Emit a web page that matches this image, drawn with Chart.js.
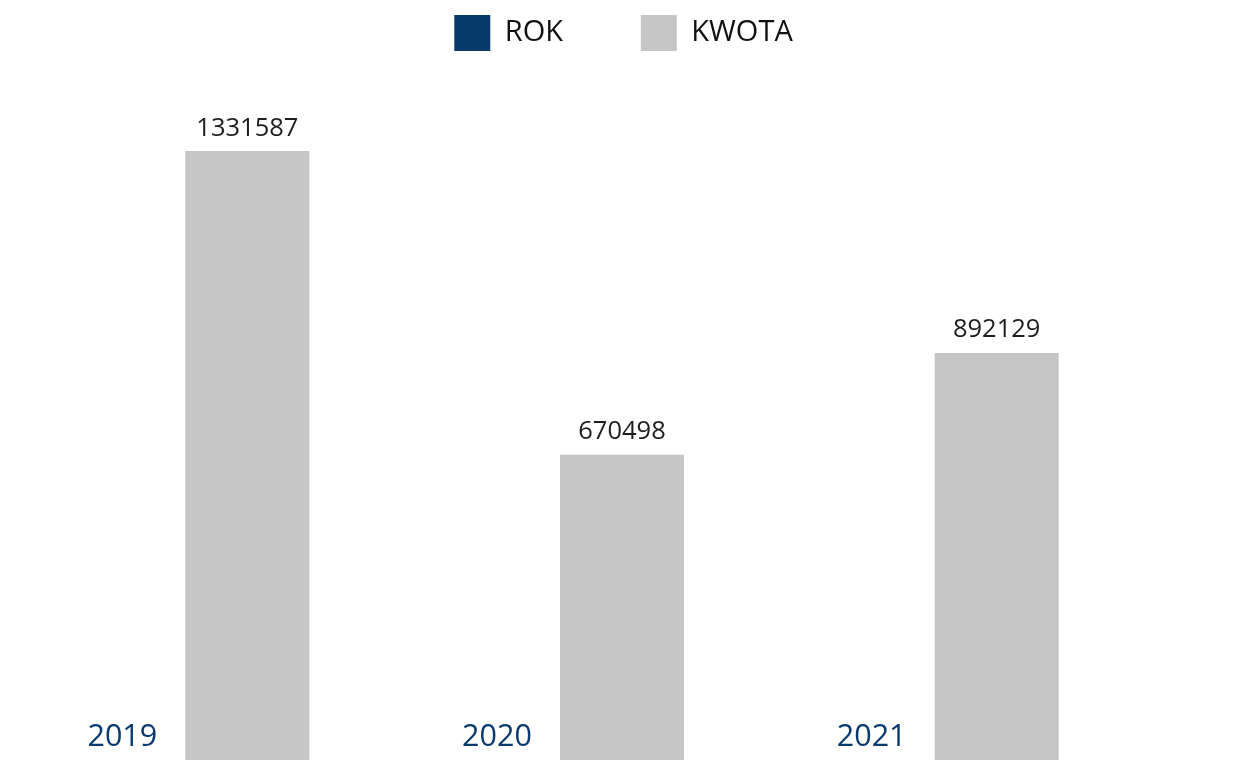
<!DOCTYPE html>
<html>
<head>
<meta charset="utf-8">
<script src="https://cdn.jsdelivr.net/npm/chart.js@4"></script>
<style>
    html, body { margin: 0; padding: 0; background: #ffffff; overflow: hidden; }
    /* obszar wykresu schodzi kilka pikseli poza kadr, jak w oryginale */
    #wrap { width: 1238px; height: 763px; margin-left: -2px; }
</style>
</head>
<body>
<div id="wrap"><canvas id="chart"></canvas></div>
<script>
const Lata = ["2019", "2020", "2021"];
const Rok = [2019, 2020, 2021];
const Kwota = [1331587, 670498, 892129];

const colorRok = "#083a6b";
const colorKwota = "#c6c6c6";

// etykiety nad słupkami (bez pluginu datalabels)
const barLabels = {
    id: 'barLabels',
    afterDatasetsDraw(chart) {
        const ctx = chart.ctx;
        ctx.save();
        ctx.textAlign = 'center';
        ctx.textBaseline = 'bottom';
        chart.data.datasets.forEach(function(dataset, i) {
            const meta = chart.getDatasetMeta(i);
            meta.data.forEach(function(bar, j) {
                if (i === 0) {
                    ctx.font = '30.5px "Open Sans"';
                    ctx.fillStyle = "#0b3b6e";
                    ctx.fillText(dataset.data[j], bar.x - 1, bar.y - 10);
                } else {
                    ctx.font = '25.5px "Open Sans"';
                    ctx.fillStyle = "#1e1e1e";
                    ctx.fillText(dataset.data[j], bar.x, bar.y - 10);
                }
            });
        });
        ctx.restore();
    }
};

// legenda wyśrodkowana na całym płótnie, a nie nad obszarem wykresu
const legendShift = {
    id: 'legendShift',
    afterLayout(chart) {
        chart.legend.right = chart.width + 13;
    }
};

Chart.defaults.font.family = '"Open Sans", sans-serif';

new Chart(document.getElementById('chart'), {
    type: 'bar',
    data: {
        labels: Lata,
        datasets: [
            {
                label: "ROK",
                data: Rok,
                backgroundColor: colorRok,
                barPercentage: 1,
                categoryPercentage: 0.662
            },
            {
                label: "KWOTA",
                data: Kwota,
                backgroundColor: colorKwota,
                barPercentage: 1,
                categoryPercentage: 0.662
            }
        ]
    },
    options: {
        responsive: true,
        maintainAspectRatio: false,
        animation: false,
        layout: {
            padding: { left: 0, right: 114, top: 0, bottom: 0 }
        },
        plugins: {
            legend: {
                position: 'top',
                labels: {
                    boxWidth: 36,
                    boxHeight: 36,
                    padding: 15,
                    color: "#111111",
                    font: { size: 29 },
                    generateLabels: function(chart) {
                        const items = Chart.defaults.plugins.legend.labels.generateLabels(chart);
                        items[0].text = items[0].text + "\u2002\u2002\u2002\u2002\u2009";
                        items.forEach(function(it) { it.lineWidth = 0; });
                        return items;
                    }
                }
            },
            tooltip: { enabled: false }
        },
        scales: {
            x: { display: false },
            y: { display: false, beginAtZero: true, max: 1527400 }
        }
    },
    plugins: [barLabels, legendShift]
});
</script>
</body>
</html>
